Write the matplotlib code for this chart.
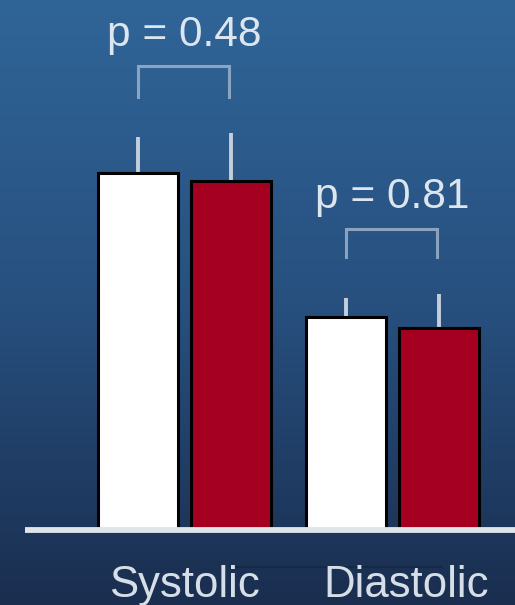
import numpy as np
import matplotlib
matplotlib.use("Agg")
import matplotlib.pyplot as plt
from matplotlib.colors import LinearSegmentedColormap

# Blood pressure (mmHg), two groups per measure
categories = ["Systolic", "Diastolic"]
group_a = [130.0, 77.5]      # white bars
group_b = [127.0, 73.5]      # red bars
err_a = [13.0, 7.0]
err_b = [17.5, 12.4]
p_labels = ["p = 0.48", "p = 0.81"]
bracket_top = [168.8, 109.6]
bracket_drop = [11.0, 10.2]

W, H = 515, 605
fig = plt.figure(figsize=(W / 100, H / 100), dpi=100)
ax = fig.add_axes([0, 0, 1, 1])

x = np.arange(len(categories))
off = 0.2236
bw = 0.380
xa = x - off
xb = x + off

ax.set_xlim(-0.887, 1.589)
ax.set_ylim(-27.3, 193.0)
ax.axis("off")

# vertical gradient background
bg = LinearSegmentedColormap.from_list("bg", ["#1a2e4f", "#27507f", "#306598"])
grad = np.linspace(0, 1, 256).reshape(-1, 1)
ax.imshow(grad, cmap=bg, origin="lower", extent=[0, 1, 0, 1],
          transform=ax.transAxes, aspect="auto", zorder=0)

font = "Liberation Sans"
light = "#dde5ee"
err_col = "#c3cfdc"

# upper-only error bars
for xs, vals, errs in ((xa, group_a, err_a), (xb, group_b, err_b)):
    for xi, v, e in zip(xs, vals, errs):
        ax.plot([xi, xi], [v, v + e], color=err_col, lw=2.8,
                solid_capstyle="butt", zorder=2)

ax.bar(xa, group_a, width=bw, color="white", edgecolor="black",
       linewidth=2.2, zorder=3)
ax.bar(xb, group_b, width=bw, color="#a50021", edgecolor="black",
       linewidth=2.2, zorder=3)

# baseline
ax.plot([-0.767, 1.589], [0, 0], color="#dfe5ea", lw=4.2,
        solid_capstyle="butt", zorder=4)

# significance brackets with p-values
for i in range(len(categories)):
    top = bracket_top[i]
    bot = top - bracket_drop[i]
    ax.plot([xa[i], xa[i], xb[i] - 0.01, xb[i] - 0.01], [bot, top, top, bot],
            color="#9db1c9", lw=2.2, alpha=0.85, zorder=2,
            solid_joinstyle="miter")
    ax.text(x[i], top + 7.5, p_labels[i], ha="center", va="baseline",
            fontsize=30.5, color=light, family=font, zorder=5)

# faint rule under the category labels
ax.plot([0.23, 1.24], [-13.6, -13.6], color="#142641", lw=1.2, zorder=1)

label_dx = [0.0, 0.067]
for i, name in enumerate(categories):
    ax.text(x[i] + label_dx[i], -24.4, name, ha="center", va="baseline",
            fontsize=31.5, color="#d6dee7", family=font, zorder=5)

fig.savefig("out.png", dpi=100)
